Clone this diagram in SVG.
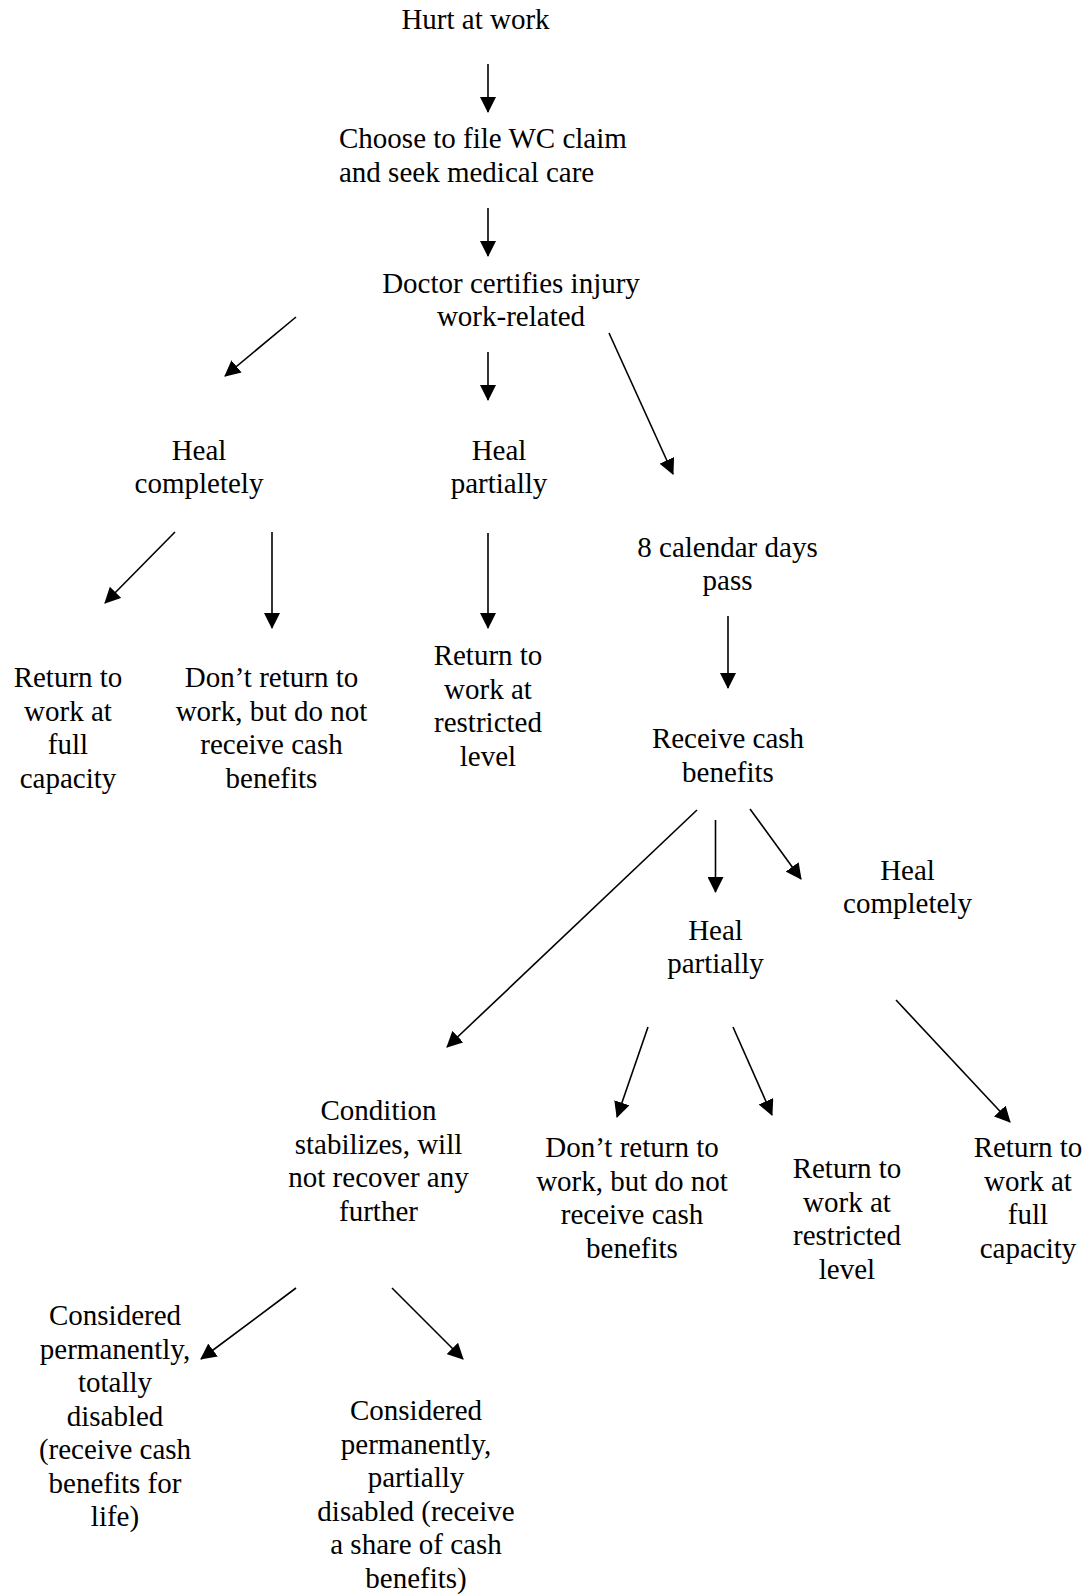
<svg xmlns="http://www.w3.org/2000/svg" width="1089" height="1595" viewBox="0 0 1089 1595">
<style>
text{font-family:"Liberation Serif","Times New Roman",serif;font-size:29px;fill:#000;text-anchor:middle}
.l{text-anchor:start}
.c line{stroke:#000;stroke-width:1.6;marker-end:url(#ah)}
</style>
<defs>
<marker id="ah" markerUnits="userSpaceOnUse" markerWidth="16" markerHeight="16" viewBox="0 0 16 16" refX="15" refY="8" orient="auto">
<path d="M0,0 L16,8 L0,16 z" fill="#000"/>
</marker>
</defs>
<rect width="1089" height="1595" fill="#fff"/>
<g id="n1"><text x="475.5" y="29">Hurt at work</text></g>
<g id="n2"><text class="l" x="339" y="148">Choose to file WC claim</text><text class="l" x="339" y="181.5">and seek medical care</text></g>
<g id="n3"><text x="511" y="292.5">Doctor certifies injury</text><text x="511" y="326">work-related</text></g>
<g id="n4"><text x="199" y="460">Heal</text><text x="199" y="493">completely</text></g>
<g id="n5"><text x="499" y="460">Heal</text><text x="499" y="493">partially</text></g>
<g id="n6"><text x="727.5" y="557">8 calendar days</text><text x="727.5" y="590">pass</text></g>
<g id="n7"><text x="68" y="687">Return to</text><text x="68" y="720.5">work at</text><text x="68" y="754">full</text><text x="68" y="787.5">capacity</text></g>
<g id="n8"><text x="271.5" y="687">Don’t return to</text><text x="271.5" y="720.5">work, but do not</text><text x="271.5" y="754">receive cash</text><text x="271.5" y="787.5">benefits</text></g>
<g id="n9"><text x="488" y="665">Return to</text><text x="488" y="698.5">work at</text><text x="488" y="732">restricted</text><text x="488" y="765.5">level</text></g>
<g id="n10"><text x="728" y="748">Receive cash</text><text x="728" y="781.5">benefits</text></g>
<g id="n11"><text x="907.5" y="880">Heal</text><text x="907.5" y="913">completely</text></g>
<g id="n12"><text x="715.5" y="940">Heal</text><text x="715.5" y="973">partially</text></g>
<g id="n13"><text x="378.5" y="1120">Condition</text><text x="378.5" y="1153.5">stabilizes, will</text><text x="378.5" y="1187">not recover any</text><text x="378.5" y="1220.5">further</text></g>
<g id="n14"><text x="632" y="1157">Don’t return to</text><text x="632" y="1190.5">work, but do not</text><text x="632" y="1224">receive cash</text><text x="632" y="1257.5">benefits</text></g>
<g id="n15"><text x="847" y="1178">Return to</text><text x="847" y="1211.5">work at</text><text x="847" y="1245">restricted</text><text x="847" y="1278.5">level</text></g>
<g id="n16"><text x="1028" y="1157">Return to</text><text x="1028" y="1190.5">work at</text><text x="1028" y="1224">full</text><text x="1028" y="1257.5">capacity</text></g>
<g id="n17"><text x="115" y="1325">Considered</text><text x="115" y="1358.5">permanently,</text><text x="115" y="1392">totally</text><text x="115" y="1425.5">disabled</text><text x="115" y="1459">(receive cash</text><text x="115" y="1492.5">benefits for</text><text x="115" y="1526">life)</text></g>
<g id="n18"><text x="416" y="1420">Considered</text><text x="416" y="1453.5">permanently,</text><text x="416" y="1487">partially</text><text x="416" y="1520.5">disabled (receive</text><text x="416" y="1554">a share of cash</text><text x="416" y="1587.5">benefits)</text></g>
<g id="connectors" class="c">
<line x1="488" y1="64" x2="488" y2="112"/>
<line x1="488" y1="208" x2="488" y2="256"/>
<line x1="296" y1="317" x2="225" y2="376"/>
<line x1="488" y1="352" x2="488" y2="400"/>
<line x1="609" y1="333" x2="673" y2="474"/>
<line x1="175" y1="532" x2="105" y2="603"/>
<line x1="272" y1="532" x2="272" y2="628"/>
<line x1="488" y1="533" x2="488" y2="628"/>
<line x1="728" y1="616" x2="728" y2="688"/>
<line x1="697" y1="810" x2="447" y2="1047"/>
<line x1="715.5" y1="820" x2="715.5" y2="892"/>
<line x1="750" y1="809" x2="801" y2="879"/>
<line x1="648" y1="1027" x2="617" y2="1117"/>
<line x1="733" y1="1027" x2="772" y2="1115"/>
<line x1="896" y1="1000" x2="1010" y2="1122"/>
<line x1="296" y1="1288" x2="201" y2="1359"/>
<line x1="392" y1="1288" x2="463" y2="1359"/>
</g>
</svg>
